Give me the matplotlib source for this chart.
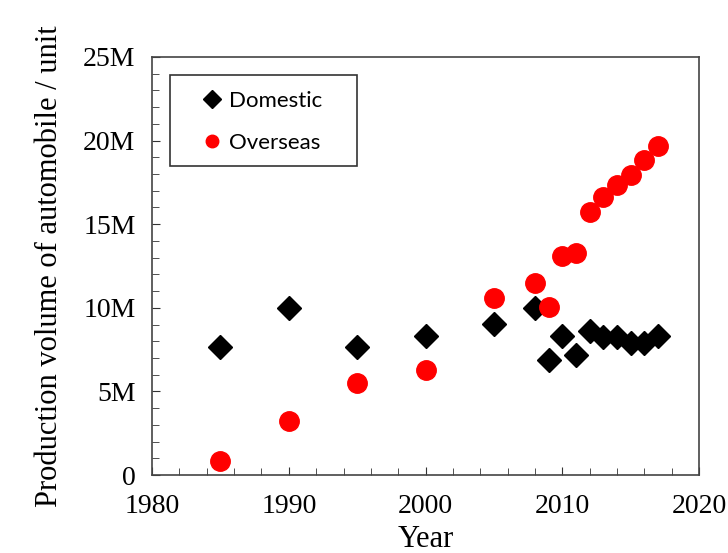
import matplotlib.pyplot as plt
from matplotlib.patches import Rectangle
from matplotlib.ticker import MultipleLocator, FuncFormatter

years = [1985, 1990, 1995, 2000, 2005, 2008, 2009, 2010, 2011, 2012, 2013, 2014, 2015, 2016, 2017]
domestic = [7.66, 9.99, 7.66, 8.31, 9.03, 9.99, 6.88, 8.31, 7.18, 8.61, 8.25, 8.25, 7.90, 7.90, 8.31]
overseas = [0.84, 3.23, 5.50, 6.28, 10.59, 11.48, 10.05, 13.10, 13.28, 15.73, 16.63, 17.34, 17.94, 18.84, 19.68]

plt.rcParams['font.family'] = 'Liberation Serif'

fig = plt.figure(figsize=(7.28, 5.53), dpi=100)
ax = fig.add_axes([0.209, 0.141, 0.751, 0.756])

ax.plot(years, domestic, linestyle='none', marker='D', markersize=12,
        color='black', label='Domestic')
ax.plot(years, overseas, linestyle='none', marker='o', markersize=14,
        color='red', label='Overseas')

ax.set_xlim(1980, 2020)
ax.set_ylim(0, 25)
ax.xaxis.set_major_locator(MultipleLocator(10))
ax.xaxis.set_minor_locator(MultipleLocator(2))
ax.yaxis.set_major_locator(MultipleLocator(5))
ax.yaxis.set_minor_locator(MultipleLocator(1))
ax.yaxis.set_major_formatter(FuncFormatter(lambda v, p: '0' if v == 0 else f'{int(v)}M'))
ax.tick_params(which='both', direction='in', labelsize=20, color='#333333')
ax.tick_params(axis='y', which='major', length=6, pad=12)
ax.tick_params(axis='x', which='major', length=6, pad=14)
ax.tick_params(which='minor', length=5)
for s in ax.spines.values():
    s.set_color('#444444')
    s.set_linewidth(1.2)

ax.set_xlabel('Year', fontsize=22, labelpad=4)
ax.set_ylabel('Production volume of automobile / unit', fontsize=22, labelpad=14)

# legend box drawn separately so the padding can be wider than tall
ax.add_patch(Rectangle((0.033, 0.739), 0.342, 0.218, transform=ax.transAxes,
                       facecolor='white', edgecolor='#333333', linewidth=1.2, zorder=4))
leg = ax.legend(loc='upper left', bbox_to_anchor=(0.0896, 0.918), prop={'family': 'Lato', 'size': 16},
                frameon=False, borderpad=0, labelspacing=0.98, handletextpad=0.25,
                handlelength=1.0, borderaxespad=0)
leg.set_zorder(5)
for h in leg.legend_handles:
    h.set_markersize(9)

fig.savefig('out.png', dpi=100)
